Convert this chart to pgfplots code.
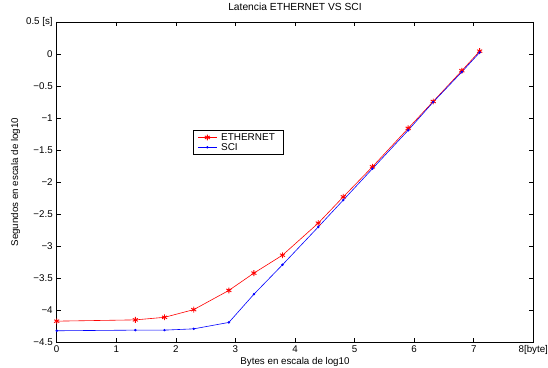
\documentclass[border=0pt]{standalone}
\usepackage{fontspec}
\setmainfont{Liberation Sans}
\usepackage{pgfplots}
\pgfplotsset{compat=1.18}
\begin{document}
\begin{tikzpicture}
\begin{axis}[
  name=ax,
  scale only axis,
  width=476.6bp, height=320.3bp,
  xmin=0, xmax=8, ymin=-4.5, ymax=0.5,
  xtick={0,1,2,3,4,5,6,7,8},
  xticklabels={0,1,2,3,4,5,6,7,8[byte]},
  ytick={-4.5,-4,-3.5,-3,-2.5,-2,-1.5,-1,-0.5,0,0.5},
  yticklabels={−4.5,−4,−3.5,−3,−2.5,−2,−1.5,−1,−0.5,0,0.5 [s]},
  /pgf/number format/assume math mode=true,
  tick align=inside,
  major tick length=4bp,
  tick style={black, line width=0.5bp},
  axis line style={black, line width=0.9bp},
  ticklabel style={font=\fontsize{9.8}{11}\selectfont},
  yticklabel style={xshift=-0.5bp},
  title={Latencia ETHERNET VS SCI},
  title style={font=\fontsize{10.3}{12}\selectfont, anchor=base, at={(axis description cs:0.5,1)}, yshift=5.2bp},
  xlabel={Bytes en escala de log10},
  ylabel={Segundos en escala de log10},
  label style={font=\fontsize{9.8}{11}\selectfont},
  xlabel style={yshift=4bp},
  ylabel style={yshift=-1bp},
  clip=false,
  legend image code/.code={
    \draw[mark repeat=2,mark phase=2] plot coordinates {(0bp,0bp) (9.5bp,0bp) (19bp,0bp)};
  },
  legend style={at={(axis description cs:0.2866,0.6628)}, anchor=north west,
    draw=black, line width=0.5bp, font=\fontsize{10}{11}\selectfont,
    inner xsep=4bp, inner ysep=1bp, row sep=-2.5bp, cells={anchor=west},
    nodes={inner xsep=4bp}},
]
\addplot[red, line width=0.6bp, mark=asterisk, mark size=2.9bp, mark options={line width=0.9bp}]
coordinates {(0,-4.17) (1.32,-4.15) (1.81,-4.11) (2.30,-3.99) (2.89,-3.69) (3.31,-3.42) (3.79,-3.14) (4.39,-2.64) (4.81,-2.23) (5.30,-1.76) (5.90,-1.16) (6.32,-0.74) (6.80,-0.26) (7.10,0.045)};
\addlegendentry{ETHERNET}
\addplot[blue, line width=0.6bp, mark=*, mark size=0.9bp]
coordinates {(0,-4.32) (1.32,-4.31) (1.81,-4.31) (2.30,-4.29) (2.89,-4.19) (3.31,-3.75) (3.79,-3.29) (4.39,-2.70) (4.81,-2.28) (5.30,-1.79) (5.90,-1.19) (6.32,-0.75) (6.80,-0.28) (7.10,0.025)};
\addlegendentry{SCI}
\end{axis}
\pgfresetboundingbox
\path[use as bounding box] ([xshift=-56.7bp,yshift=-25.7bp]ax.south west) rectangle ([xshift=14.7bp,yshift=22bp]ax.north east);
\end{tikzpicture}
\end{document}
